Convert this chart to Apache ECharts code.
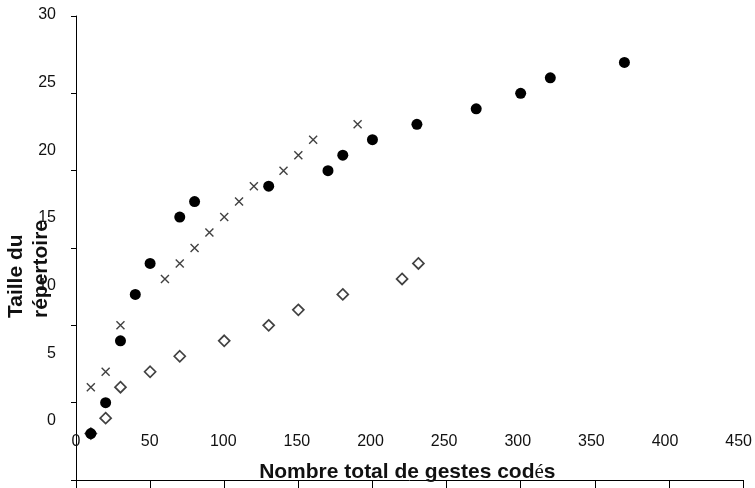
<!DOCTYPE html>
<html lang="fr">
<head>
    <meta charset="UTF-8">
    <title>Taille du répertoire</title>
    <script src="https://cdn.jsdelivr.net/npm/echarts@6/dist/echarts.min.js"></script>
    <style>
        html, body { margin: 0; padding: 0; background: #fff; }
        #main { width: 755px; height: 488px; }
    </style>
</head>
<body>
<div id="main"></div>
<script>
    // points : [gestes codés, taille du répertoire]
    var ronds = [[10, 3], [20, 5], [30, 9], [40, 12], [50, 14], [70, 17], [80, 18], [130, 19],
        [170, 20], [180, 21], [200, 22], [230, 23], [270, 24], [300, 25], [320, 26], [370, 27]];
    var croix = [[10, 6], [20, 7], [30, 10], [60, 13], [70, 14], [80, 15], [90, 16], [100, 17],
        [110, 18], [120, 19], [140, 20], [150, 21], [160, 22], [190, 23]];
    var losanges = [[10, 3], [20, 4], [30, 6], [50, 7], [70, 8], [100, 9], [130, 10], [150, 11],
        [180, 12], [220, 13], [231, 14]];
    // graduations
    var xTicks = [0, 450, 50];
    var yTicks = [0, 30, 5];

    var police = '"Liberation Sans", Arial, sans-serif';
    var chart = echarts.init(document.getElementById('main'));

    var option = {
        animation: false,
        backgroundColor: '#fff',
        grid: [
            {left: 76, right: 12, top: 16, bottom: 8},     // zone des points
            {left: 76, right: 12, top: 15, bottom: 66}     // étiquettes (décalées comme sur l'original)
        ],
        xAxis: [{
            gridIndex: 0, type: 'value', min: xTicks[0], max: xTicks[1], interval: xTicks[2],
            axisLine: {onZero: false, lineStyle: {color: '#000', width: 1}},
            axisTick: {show: true, inside: false, length: 8, lineStyle: {color: '#000'}},
            axisLabel: {show: false},
            splitLine: {show: false}
        }, {
            gridIndex: 1, type: 'value', min: xTicks[0], max: xTicks[1], interval: xTicks[2],
            axisLine: {show: false}, axisTick: {show: false}, splitLine: {show: false},
            axisLabel: {margin: 13, fontSize: 16, color: '#111', fontFamily: police},
            name: 'Nombre total de gestes cod{e|é}s',
            nameLocation: 'middle',
            nameGap: 41,
            nameTextStyle: {
                fontSize: 21, fontWeight: 'bold', color: '#111', fontFamily: police,
                rich: {e: {fontSize: 21, fontWeight: 'normal', color: '#111', fontFamily: '"Liberation Serif", serif'}}
            }
        }],
        yAxis: [{
            gridIndex: 0, type: 'value', min: yTicks[0], max: yTicks[1], interval: yTicks[2],
            axisLine: {show: true, onZero: false, lineStyle: {color: '#000', width: 1}},
            axisTick: {show: true, inside: false, length: 5, lineStyle: {color: '#000'}},
            axisLabel: {show: false},
            splitLine: {show: false}
        }, {
            gridIndex: 1, type: 'value', min: yTicks[0], max: yTicks[1], interval: yTicks[2],
            axisLine: {show: false}, axisTick: {show: false}, splitLine: {show: false},
            axisLabel: {margin: 20, fontSize: 16, color: '#111', fontFamily: police}
        }],
        graphic: [{
            type: 'text',
            x: 4, y: 318,
            rotation: Math.PI / 2,
            z: 100,
            style: {
                text: 'Taille du\nrépertoire',
                font: 'bold 21px ' + police,
                lineHeight: 25,
                fill: '#111',
                align: 'left',
                verticalAlign: 'top'
            }
        }],
        series: [{
            type: 'scatter', xAxisIndex: 0, yAxisIndex: 0,
            data: losanges,
            symbol: 'diamond', symbolSize: 11,
            itemStyle: {color: '#fff', borderColor: '#111', borderWidth: 1.7}
        }, {
            type: 'scatter', xAxisIndex: 0, yAxisIndex: 0,
            data: croix,
            symbol: 'path://M0,0L10,10M10,0L0,10', symbolSize: 8,
            itemStyle: {color: 'rgba(0,0,0,0)', borderColor: '#111', borderWidth: 1.4}
        }, {
            type: 'scatter', xAxisIndex: 0, yAxisIndex: 0,
            data: ronds,
            symbol: 'circle', symbolSize: 11,
            itemStyle: {color: '#000', opacity: 1}
        }]
    };
    chart.setOption(option);
</script>
</body>
</html>
